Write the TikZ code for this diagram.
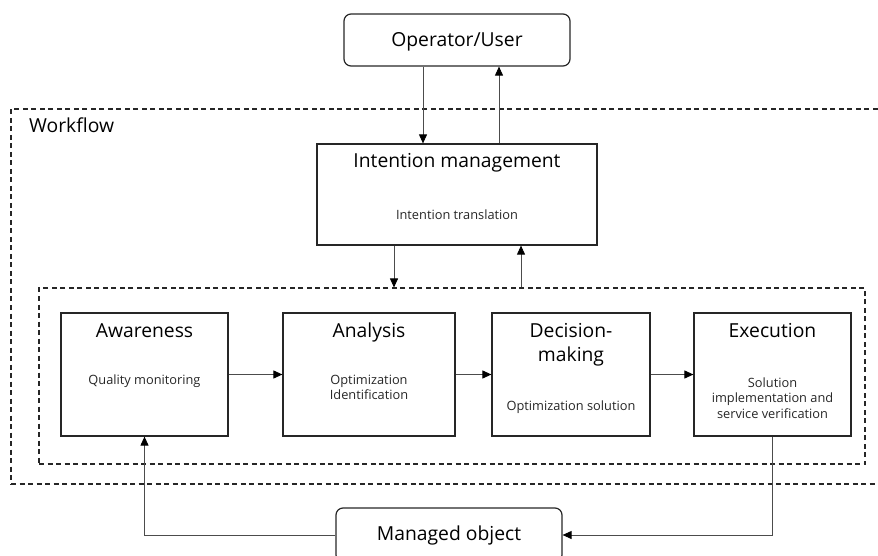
\documentclass[tikz,border=0pt]{standalone}
\usepackage{fontspec}
\setmainfont{Open Sans}
\usetikzlibrary{arrows.meta,calc}
\begin{document}
\begin{tikzpicture}[x=1pt,y=-1pt,
  box/.style={draw=black!85, line width=1.2pt, inner sep=0pt},
  rbox/.style={box, rounded corners=7pt},
  frame/.style={draw=black!85, line width=1.1pt, dash pattern=on 5pt off 3.5pt, inner sep=0pt},
  ttl/.style={font=\fontsize{19.3}{24}\selectfont, text=black, align=center, inner sep=0pt, anchor=base},
  sub/.style={font=\fontsize{12.8}{15.5}\selectfont, text=black!85, align=center, inner sep=0pt, anchor=base},
  conn/.style={draw=black!70, line width=0.9pt},
  arr/.style={conn, -{Triangle[length=9pt,width=8pt,fill=black,color=black]}},
]
\useasboundingbox (0,0) rectangle (878,556);

% frames
\node[frame, minimum width=879pt, minimum height=375pt] (wf) at (450.5,296.5) {};
\node[ttl, anchor=base west] (wft) at (29,133) {Workflow};
\node[frame, minimum width=826pt, minimum height=176pt] (loop) at (452,376) {};

% boxes
\node[rbox, minimum width=226pt, minimum height=52pt] (op) at (457,40) {};
\node[ttl] (opt) at (457,47) {Operator/User};

\node[box, minimum width=280pt, minimum height=101pt] (im) at (457,194.5) {};
\node[ttl] (imt) at (457,168) {Intention management};
\node[sub] (ims) at (457,219) {Intention translation};

\node[box, minimum width=167pt, minimum height=123pt] (aw) at (144.5,374.5) {};
\node[ttl] (awt) at (144.5,337.5) {Awareness};
\node[sub] (aws) at (144.5,384) {Quality monitoring};

\node[box, minimum width=172pt, minimum height=123pt] (an) at (369,374.5) {};
\node[ttl] (ant) at (369,337.5) {Analysis};
\node[sub] (ans1) at (369,384) {Optimization};
\node[sub] (ans2) at (369,399) {Identification};

\node[box, minimum width=158pt, minimum height=123pt] (dm) at (571,374.5) {};
\node[ttl] (dmt1) at (571,337.5) {Decision-};
\node[ttl] (dmt2) at (571,361) {making};
\node[sub] (dms) at (571,410.5) {Optimization solution};

\node[box, minimum width=157pt, minimum height=123pt] (ex) at (772.5,374.5) {};
\node[ttl] (ext) at (772.5,337.5) {Execution};
\node[sub] (exs1) at (772.5,387) {Solution};
\node[sub] (exs2) at (772.5,402.5) {implementation and};
\node[sub] (exs3) at (772.5,418) {service verification};

\node[rbox, minimum width=226pt, minimum height=54pt] (mo) at (449,535) {};
\node[ttl] (mot) at (449,540) {Managed object};

% connectors
\coordinate (a1) at (423,0);
\coordinate (a2) at (499,0);
\coordinate (a3) at (394,0);
\coordinate (a4) at (521,0);
\draw[arr] (op.south -| a1) -- (im.north -| a1);
\draw[arr] (im.north -| a2) -- (op.south -| a2);
\draw[arr] (im.south -| a3) -- (loop.north -| a3);
\draw[arr] (loop.north -| a4) -- (im.south -| a4);

\draw[arr] (aw.east) -- (an.west);
\draw[arr] (an.east) -- (dm.west);
\draw[arr] (dm.east) -- (ex.west);

\draw[arr] (ex.south) -- (ex.south |- mo.east) -- (mo.east);
\draw[arr] (mo.west) -- (mo.west -| aw.south) -- (aw.south);
\end{tikzpicture}
\end{document}
